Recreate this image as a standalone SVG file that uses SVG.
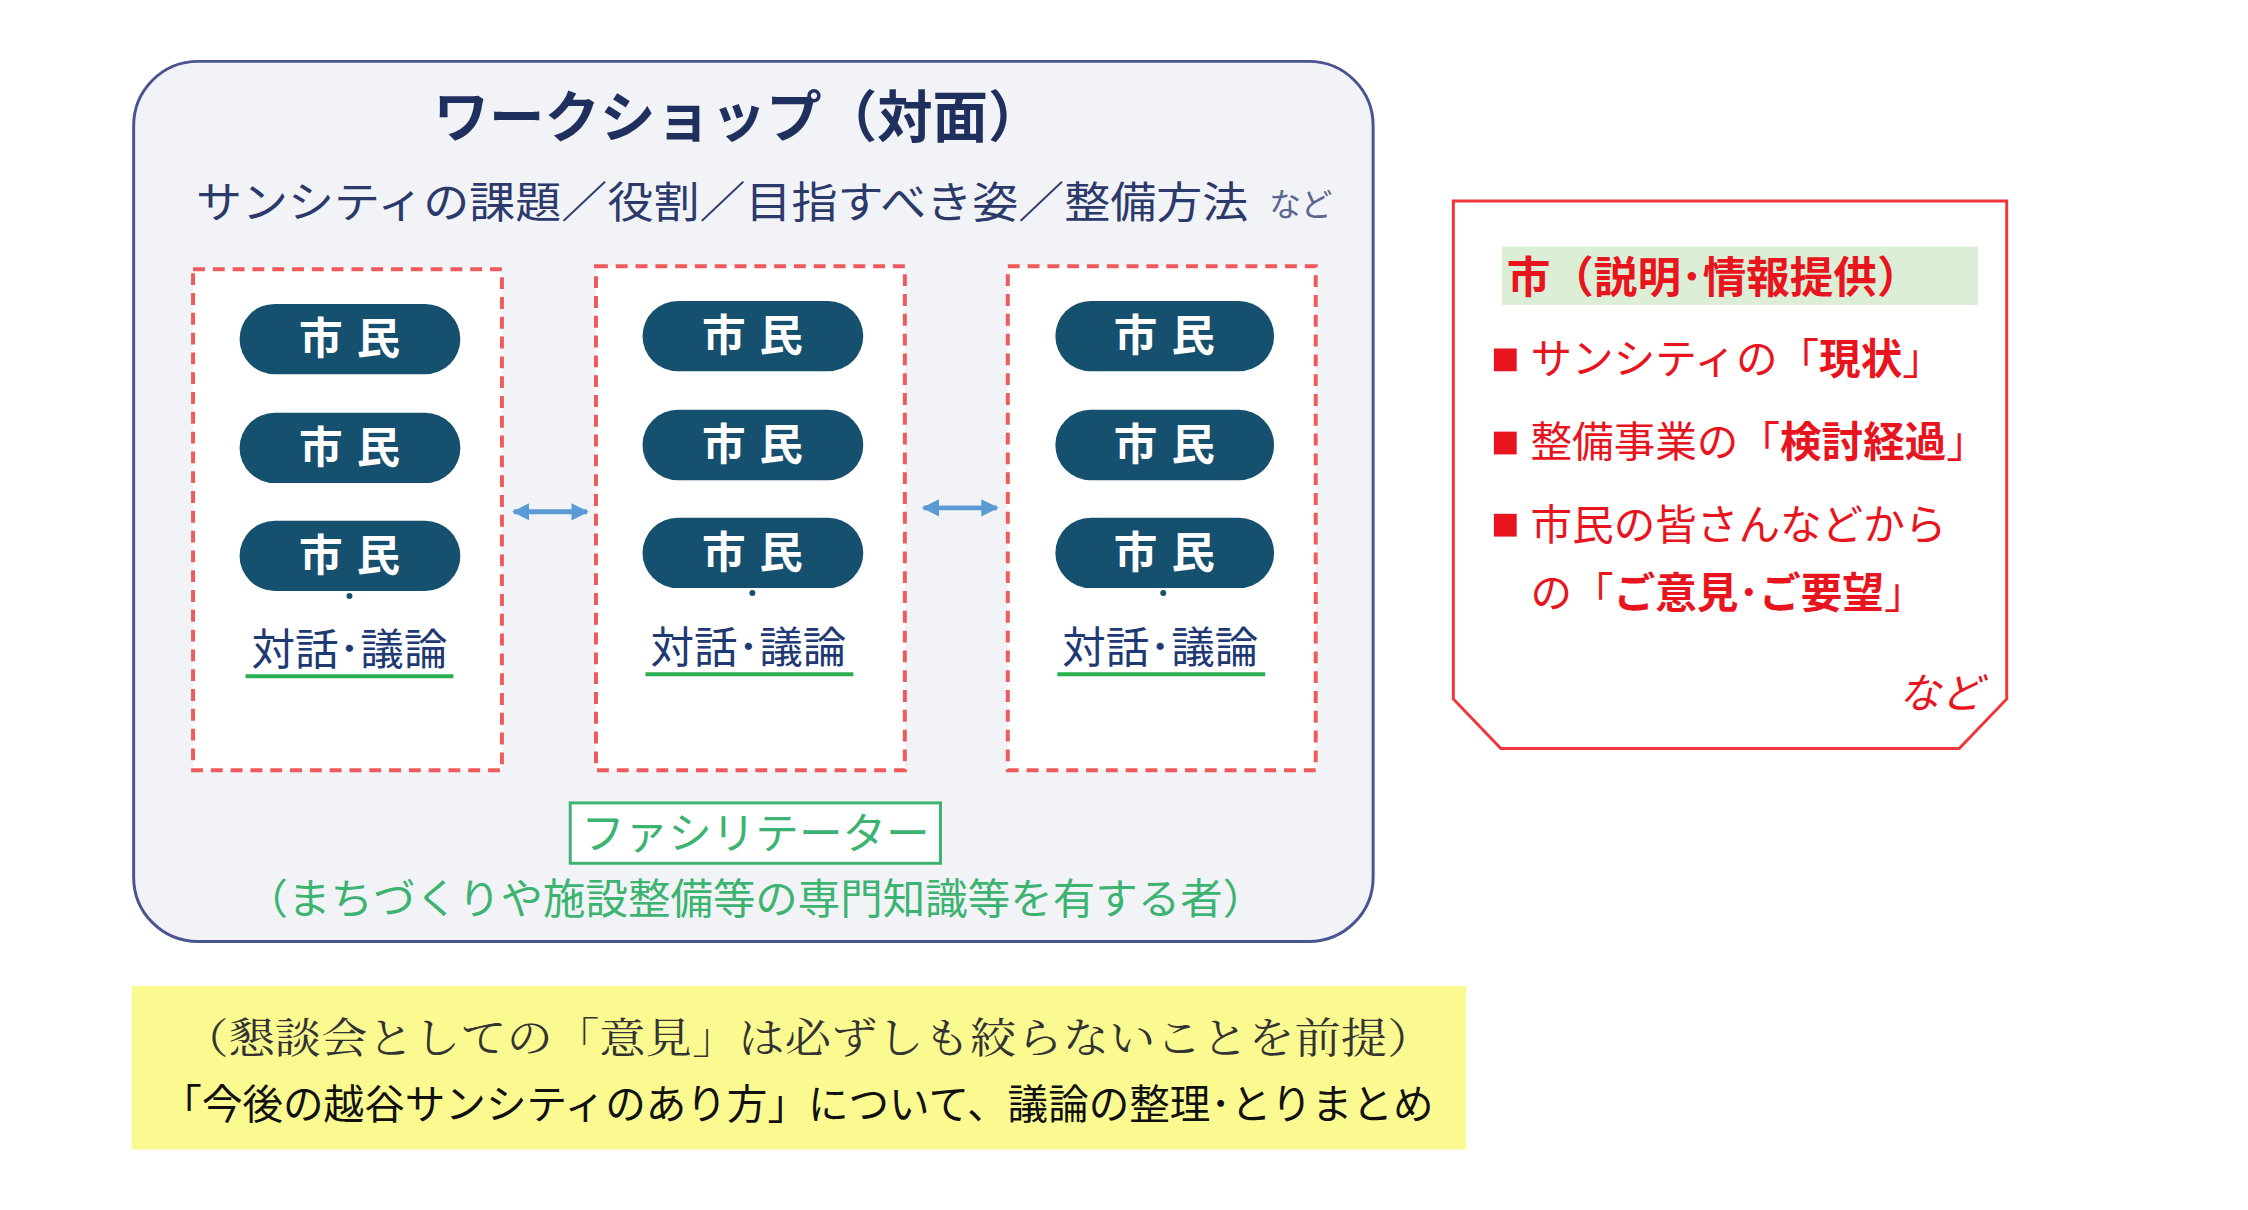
<svg xmlns="http://www.w3.org/2000/svg" width="2248" height="1210" viewBox="0 0 2248 1210">
<defs>
<style>
.jp{font-family:"Noto Sans CJK JP","Noto Sans",sans-serif}
.pill{fill:#16506f}
.pt{fill:#fff;font-size:44px;font-weight:bold;text-anchor:middle;letter-spacing:14px}
.dash{fill:#fff;stroke:#f05a5a;stroke-width:4;stroke-dasharray:12 8}
.talk{fill:#1f3a73;font-size:44px;text-anchor:middle}
.ul{stroke:#2ab050;stroke-width:4}
.red{fill:#e8141e;font-size:42px}
</style>
<marker id="ah" viewBox="0 0 10 10" refX="9" refY="5" markerWidth="3.5" markerHeight="3.5" orient="auto-start-reverse"><path d="M0,0L10,5L0,10z" fill="#5b9bd5"/></marker>
</defs>
<rect width="2248" height="1210" fill="#fff"/>
<g transform="scale(0.99)">
<g id="workshop">
<rect x="135" y="62" width="1252" height="889" rx="65" fill="#f2f3f6" stroke="#4a5590" stroke-width="3"/>
<text class="jp" x="746" y="138" font-size="56" font-weight="bold" fill="#1f2f5e" text-anchor="middle">ワークショップ（対面）</text>
<text class="jp" x="198" y="220" font-size="44" fill="#2b3a6b" textLength="1063" lengthAdjust="spacingAndGlyphs">サンシティの課題／役割／目指すべき姿／整備方法</text>
<text class="jp" x="1282" y="218" font-size="32" fill="#5a6690">など</text>
</g>
<g id="group1">
<rect class="dash" x="195" y="272" width="312" height="506"/>
<rect class="pill" x="242" y="307" width="223" height="71" rx="35.5"/><text class="jp pt" x="360" y="358">市民</text>
<rect class="pill" x="242" y="417" width="223" height="71" rx="35.5"/><text class="jp pt" x="360" y="468">市民</text>
<rect class="pill" x="242" y="526" width="223" height="71" rx="35.5"/><text class="jp pt" x="360" y="577">市民</text>
<circle cx="353" cy="602" r="3" fill="#16506f"/>
<text class="jp talk" x="353" y="672">対話･議論</text><line class="ul" x1="248" y1="683" x2="458" y2="683"/>
</g>
<g id="group2">
<rect class="dash" x="602" y="269" width="312" height="509"/>
<rect class="pill" x="649" y="304" width="223" height="71" rx="35.5"/><text class="jp pt" x="767" y="355">市民</text>
<rect class="pill" x="649" y="414" width="223" height="71" rx="35.5"/><text class="jp pt" x="767" y="465">市民</text>
<rect class="pill" x="649" y="523" width="223" height="71" rx="35.5"/><text class="jp pt" x="767" y="574">市民</text>
<circle cx="760" cy="599" r="3" fill="#16506f"/>
<text class="jp talk" x="756" y="670">対話･議論</text><line class="ul" x1="652" y1="681" x2="862" y2="681"/>
</g>
<g id="group3">
<rect class="dash" x="1018" y="269" width="311" height="509"/>
<rect class="pill" x="1066" y="304" width="221" height="71" rx="35.5"/><text class="jp pt" x="1183" y="355">市民</text>
<rect class="pill" x="1066" y="414" width="221" height="71" rx="35.5"/><text class="jp pt" x="1183" y="465">市民</text>
<rect class="pill" x="1066" y="523" width="221" height="71" rx="35.5"/><text class="jp pt" x="1183" y="574">市民</text>
<circle cx="1175" cy="599" r="3" fill="#16506f"/>
<text class="jp talk" x="1172" y="670">対話･議論</text><line class="ul" x1="1068" y1="681" x2="1278" y2="681"/>
</g>
<g id="connectors" stroke="#5b9bd5" stroke-width="5" fill="none">
<line x1="519" y1="517" x2="593" y2="517" marker-start="url(#ah)" marker-end="url(#ah)"/>
<line x1="933" y1="513" x2="1007" y2="513" marker-start="url(#ah)" marker-end="url(#ah)"/>
</g>
<g id="facilitator">
<rect x="576" y="811" width="374" height="61" fill="#fff" stroke="#3cb371" stroke-width="3"/>
<text class="jp" x="763" y="858" font-size="44" fill="#3cb371" text-anchor="middle">ファシリテーター</text>
<text class="jp" x="763" y="923" font-size="42" fill="#3cb371" text-anchor="middle" textLength="1030" lengthAdjust="spacingAndGlyphs">（まちづくりや施設整備等の専門知識等を有する者）</text>
</g>
<g id="city">
<path d="M1468,203H2027V706L1979,756H1516L1468,706Z" fill="#fff" stroke="#f0353b" stroke-width="3"/>
<rect x="1517" y="249" width="481" height="59" fill="#dcefd6"/>
<text class="jp" x="1522" y="296" font-size="44" font-weight="bold" fill="#e8141e">市（説明･情報提供）</text>
<rect x="1509" y="352" width="23" height="23" fill="#e8141e"/>
<text class="jp red" x="1546" y="378">サンシティの「<tspan font-weight="bold">現状</tspan>」</text>
<rect x="1509" y="436" width="23" height="23" fill="#e8141e"/>
<text class="jp red" x="1546" y="462">整備事業の「<tspan font-weight="bold">検討経過</tspan>」</text>
<rect x="1509" y="519" width="23" height="23" fill="#e8141e"/>
<text class="jp red" x="1546" y="545">市民の皆さんなどから</text>
<text class="jp red" x="1546" y="614">の「<tspan font-weight="bold">ご意見･ご要望</tspan>」</text>
<text class="jp red" x="1918" y="715" font-size="38" font-style="italic">など</text>
</g>
<g id="summary">
<rect x="133" y="996" width="1348" height="165" fill="#fafa90"/>
<text x="184" y="1064" font-family="'Noto Serif CJK JP','Liberation Serif','Noto Sans CJK JP',serif" font-size="42" fill="#333" textLength="1264" lengthAdjust="spacingAndGlyphs">（懇談会としての「意見」は必ずしも絞らないことを前提）</text>
<text class="jp" x="163" y="1130" font-size="41" fill="#111" textLength="1285" lengthAdjust="spacingAndGlyphs">「今後の越谷サンシティのあり方」について、議論の整理･とりまとめ</text>
</g>
</g>
</svg>
